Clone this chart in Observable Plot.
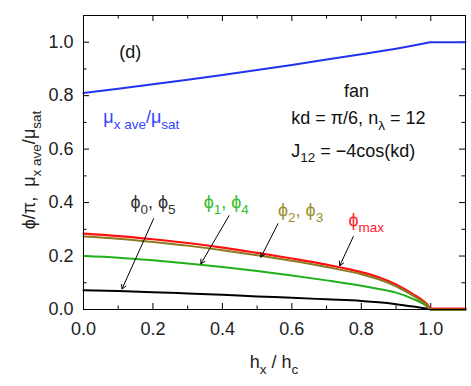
<!DOCTYPE html>
<html><head><meta charset="utf-8">
<script src="https://cdn.jsdelivr.net/npm/d3@7"></script>
<script src="https://cdn.jsdelivr.net/npm/@observablehq/plot@0.6"></script>
<style>body{margin:0;background:#fff}</style>
</head><body><div id="chart"></div>
<script>
// ---- data ----
const hx      = [0, 0.1, 0.2, 0.3, 0.4, 0.5, 0.6, 0.7, 0.8, 0.85, 0.9, 0.95, 0.98, 0.99, 1.0, 1.1];
const muRatio = [0.810, 0.826, 0.843, 0.860, 0.877, 0.896, 0.915, 0.935, 0.955, 0.965, 0.976, 0.988, 0.995, 0.998, 1.0, 1.0];
const phiMax  = [0.280, 0.271, 0.259, 0.245, 0.228, 0.208, 0.187, 0.164, 0.136, 0.117, 0.090, 0.053, 0.027, 0.015, 0, 0];
const phi23   = [0.273, 0.265, 0.253, 0.239, 0.222, 0.203, 0.182, 0.159, 0.132, 0.113, 0.087, 0.051, 0.026, 0.014, 0, 0];
const phi14   = [0.200, 0.194, 0.184, 0.172, 0.159, 0.144, 0.127, 0.109, 0.089, 0.077, 0.063, 0.039, 0.020, 0.011, 0, 0];
const phi05   = [0.072, 0.069, 0.065, 0.060, 0.055, 0.049, 0.044, 0.038, 0.032, 0.027, 0.020, 0.011, 0.005, 0.003, 0, 0];
const xMajor = [0, 0.2, 0.4, 0.6, 0.8, 1.0];
const xMinor = [0.1, 0.3, 0.5, 0.7, 0.9];
const yMajor = [0, 0.2, 0.4, 0.6, 0.8, 1.0];
const yMinor = [0.1, 0.3, 0.5, 0.7, 0.9];

const W = 471, H = 386, mL = 83, mR = 6, mT = 15, mB = 77;
const pw = W - mL - mR, ph = H - mT - mB;
const FONT = "'Liberation Sans', Arial, Helvetica, sans-serif";

const series = (ys) => hx.map((x, i) => ({x, y: ys[i]}));
const note = (t, x, y, color, anchor = "start", size = 18) =>
  Plot.text([t], {x: [x], y: [y], text: d => d, fill: color, textAnchor: anchor, lineAnchor: "middle", fontSize: size});
const arrow = (x1, y1, x2, y2) =>
  Plot.arrow([0], {x1: [x1], y1: [y1], x2: [x2], y2: [y2], stroke: "#000", strokeWidth: 1, headLength: 7});

const plot = Plot.plot({
  width: W, height: H,
  marginLeft: mL, marginRight: mR, marginTop: mT, marginBottom: mB,
  style: {fontFamily: FONT, fontSize: "18px", color: "#222", background: "#fff"},
  x: {domain: [0, 1.1], ticks: xMajor, tickSize: 0, tickPadding: 13, tickFormat: d3.format(".1f"), label: null},
  y: {domain: [0, 1.1], ticks: yMajor, tickSize: 0, tickPadding: 10, tickFormat: d3.format(".1f"), label: null},
  marks: [
    // inward ticks on all four sides
    Plot.tickX(xMajor, {x: d => d, insetTop: ph - 6, stroke: "#000"}),
    Plot.tickX(xMinor, {x: d => d, insetTop: ph - 3.5, stroke: "#000"}),
    Plot.tickX(xMajor, {x: d => d, insetBottom: ph - 6, stroke: "#000"}),
    Plot.tickX(xMinor, {x: d => d, insetBottom: ph - 3.5, stroke: "#000"}),
    Plot.tickY(yMajor, {y: d => d, insetRight: pw - 6, stroke: "#000"}),
    Plot.tickY(yMinor, {y: d => d, insetRight: pw - 3.5, stroke: "#000"}),
    Plot.tickY(yMajor, {y: d => d, insetLeft: pw - 6, stroke: "#000"}),
    Plot.tickY(yMinor, {y: d => d, insetLeft: pw - 3.5, stroke: "#000"}),
    // curves
    Plot.line(series(phi05), {x: "x", y: "y", stroke: "#000", strokeWidth: 2, curve: "monotone-x"}),
    Plot.line(series(phi14), {x: "x", y: "y", stroke: "#22b01c", strokeWidth: 2, curve: "monotone-x"}),
    Plot.line(series(phiMax), {x: "x", y: "y", stroke: "#ff1010", strokeWidth: 2.2, dy: -1, curve: "monotone-x"}),
    Plot.line(series(phi23), {x: "x", y: "y", stroke: "#8a7a1e", strokeWidth: 2, curve: "monotone-x"}),
    Plot.line(series(muRatio), {x: "x", y: "y", stroke: "#2233ee", strokeWidth: 2}),
    Plot.frame({stroke: "#000", strokeWidth: 1}),
    // annotations
    note("(d)", 0.103, 0.961, "#111"),
    note("fan", 0.786, 0.815, "#111", "middle"),
    note("kd = π/6, n_{λ} = 12", 0.598, 0.714, "#111"),
    note("J_{12} = −4cos(kd)", 0.598, 0.594, "#111"),
    note("μ_{x ave}/μ_{sat}", 0.057, 0.718, "#3344ff"),
    note("ϕ_{0}, ϕ_{5}", 0.135, 0.400, "#333"),
    note("ϕ_{1}, ϕ_{4}", 0.346, 0.400, "#33c02a"),
    note("ϕ_{2}, ϕ_{3}", 0.560, 0.370, "#9a9030"),
    note("ϕ_{max}", 0.763, 0.333, "#ff2030"),
    arrow(0.202, 0.340, 0.111, 0.077),
    arrow(0.419, 0.351, 0.338, 0.171),
    arrow(0.560, 0.321, 0.511, 0.196),
    arrow(0.777, 0.273, 0.738, 0.164)
  ]
});

const svg = d3.select(plot);
// axis titles
svg.append("text").attr("x", mL + pw / 2).attr("y", 368).attr("text-anchor", "middle")
  .attr("fill", "#222").attr("font-size", 18).text("h_{x} / h_{c}");
svg.append("text").attr("transform", "translate(35,170) rotate(-90)").attr("text-anchor", "middle")
  .attr("fill", "#222").attr("font-size", 18).text("ϕ/π,  μ_{x ave}/μ_{sat}");

// convert _{...} markup into subscript tspans
svg.selectAll("text").each(function () {
  const el = d3.select(this);
  const s = this.textContent;
  if (!s.includes("_{")) return;
  const fs = parseFloat(getComputedStyle(this).fontSize) || 18;
  const shift = 0.32 * fs;
  el.text(null);
  const parts = s.split(/(_\{[^}]*\})/).filter(p => p.length);
  let inSub = false;
  for (const p of parts) {
    const m = p.match(/^_\{([^}]*)\}$/);
    const t = el.append("tspan");
    if (m) {
      t.text(m[1]).attr("font-size", 0.75 * fs).attr("dy", shift);
      inSub = true;
    } else {
      t.text(p);
      if (inSub) t.attr("dy", -shift);
      inSub = false;
    }
  }
});

document.getElementById("chart").appendChild(plot);
</script>
</body></html>
